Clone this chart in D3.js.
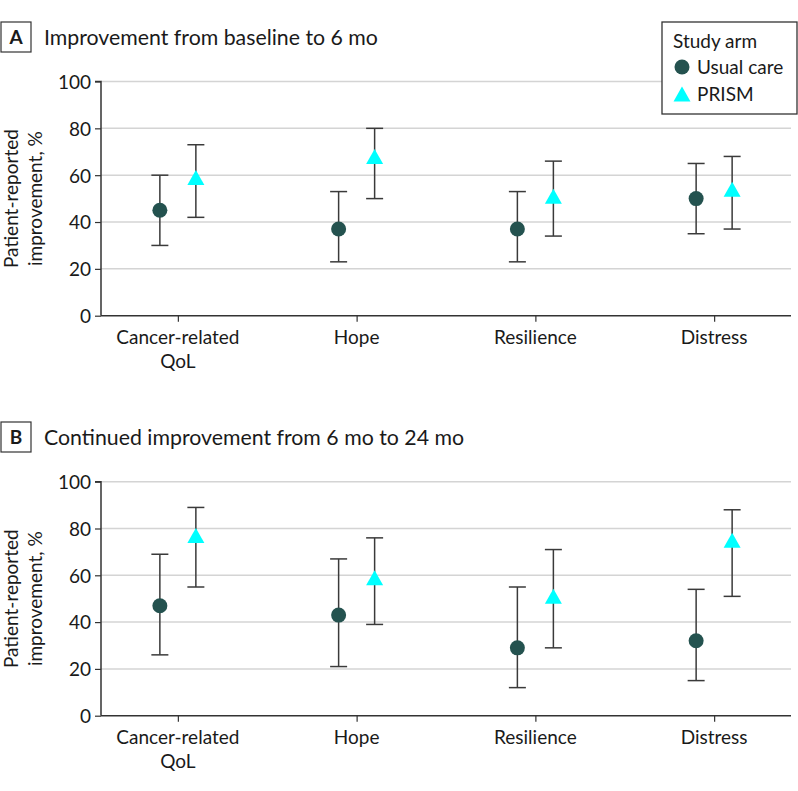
<!DOCTYPE html>
<html><head><meta charset="utf-8">
<script src="https://cdn.jsdelivr.net/npm/d3@7"></script>
<style>body{margin:0;background:#fff}svg{display:block}text{font-family:Lato,"Open Sans",sans-serif;fill:#1a1a1a}</style>
</head><body>
<svg id="c" width="798" height="791"></svg>
<script>
const categories = ["Cancer-related|QoL", "Hope", "Resilience", "Distress"];
const yTicks = [0, 20, 40, 60, 80, 100];
const seriesNames = ["Usual care", "PRISM"];

const aUsual = [45, 37, 37, 50];
const aUsualLo = [30, 23, 23, 35];
const aUsualHi = [60, 53, 53, 65];
const aPrism = [59, 68, 51, 54];
const aPrismLo = [42, 50, 34, 37];
const aPrismHi = [73, 80, 66, 68];

const bUsual = [47, 43, 29, 32];
const bUsualLo = [26, 21, 12, 15];
const bUsualHi = [69, 67, 55, 54];
const bPrism = [77, 59, 51, 75];
const bPrismLo = [55, 39, 29, 51];
const bPrismHi = [89, 76, 71, 88];

const panels = [
  {letter: "A", title: "Improvement from baseline to 6 mo", top: 81.5, bottom: 315.7, titleY: 37,
   usual: [aUsual, aUsualLo, aUsualHi], prism: [aPrism, aPrismLo, aPrismHi]},
  {letter: "B", title: "Continued improvement from 6 mo to 24 mo", top: 481.7, bottom: 715.7, titleY: 437,
   usual: [bUsual, bUsualLo, bUsualHi], prism: [bPrism, bPrismLo, bPrismHi]}
];

const svg = d3.select("#c");
const left = 101, right = 791;
const cUsual = "#24524f", cPrism = "#00ffff", cErr = "#3a3a3a";
const dodge = 18, cap = 8.5;

function triPath(w, h) {
  return `M0,${-h/2}L${w/2},${h/2}L${-w/2},${h/2}Z`;
}

const x = d3.scalePoint().domain(categories).range([left, right]).padding(0.43);

panels.forEach(p => {
  const g = svg.append("g");
  const y = d3.scaleLinear().domain([0, 100]).range([p.bottom, p.top]);

  // title
  g.append("rect").attr("x", 1).attr("y", p.titleY - 15).attr("width", 30).attr("height", 30)
    .attr("fill", "#fff").attr("stroke", "#333").attr("stroke-width", 1.2);
  g.append("text").attr("x", 16).attr("y", p.titleY + 7).attr("text-anchor", "middle")
    .attr("font-size", 19).attr("font-weight", "bold").text(p.letter);
  g.append("text").attr("x", 44).attr("y", p.titleY + 8).attr("font-size", 21.3).text(p.title);

  // gridlines
  g.append("g").selectAll("line").data(yTicks.filter(d => d > 0)).join("line")
    .attr("x1", left).attr("x2", right).attr("y1", d => y(d)).attr("y2", d => y(d))
    .attr("stroke", "#d4d4d4").attr("stroke-width", 1.5);

  // y axis
  const ya = g.append("g").attr("transform", `translate(${left},0)`)
    .call(d3.axisLeft(y).tickValues(yTicks).tickSize(6).tickPadding(4));
  ya.select(".domain").attr("stroke", "#333").attr("stroke-width", 1.5).attr("d", `M-6,${p.top}H0V${p.bottom}`);
  ya.selectAll(".tick line").attr("stroke", "#333").attr("stroke-width", 1.2);
  ya.selectAll(".tick text").attr("font-size", 19).attr("font-family", "Lato").attr("fill", "#1a1a1a").attr("dy", "0.36em");

  // x axis
  const xa = g.append("g").attr("transform", `translate(0,${p.bottom})`)
    .call(d3.axisBottom(x).tickSize(6).tickFormat(""));
  xa.select(".domain").attr("stroke", "#333").attr("stroke-width", 1.5).attr("d", `M${left},0H${right}`);
  xa.selectAll(".tick line").attr("stroke", "#333").attr("stroke-width", 1.2);
  categories.forEach(c => {
    const lines = c.split("|");
    lines.forEach((t, i) => {
      g.append("text").attr("x", x(c)).attr("y", p.bottom + 28 + i * 24)
        .attr("text-anchor", "middle").attr("font-size", 19).text(t);
    });
  });

  // y axis title
  const yt = g.append("text").attr("transform", `translate(0,${(p.top + p.bottom) / 2}) rotate(-90)`)
    .attr("text-anchor", "middle").attr("font-size", 19);
  yt.append("tspan").attr("x", 0).attr("y", 18).text("Patient-reported");
  yt.append("tspan").attr("x", 0).attr("y", 42).text("improvement, %");

  // series
  [[p.usual, -dodge, "circle"], [p.prism, dodge, "tri"]].forEach(([s, off, shape]) => {
    const [vals, lo, hi] = s;
    const sg = g.append("g");
    categories.forEach((c, i) => {
      const cx = x(c) + off;
      sg.append("line").attr("x1", cx).attr("x2", cx).attr("y1", y(lo[i])).attr("y2", y(hi[i]))
        .attr("stroke", cErr).attr("stroke-width", 1.5);
      [lo[i], hi[i]].forEach(v => sg.append("line").attr("x1", cx - cap).attr("x2", cx + cap)
        .attr("y1", y(v)).attr("y2", y(v)).attr("stroke", cErr).attr("stroke-width", 1.5));
      if (shape === "circle") {
        sg.append("circle").attr("cx", cx).attr("cy", y(vals[i])).attr("r", 7.5).attr("fill", cUsual);
      } else {
        sg.append("path").attr("d", triPath(17, 15)).attr("transform", `translate(${cx},${y(vals[i])})`).attr("fill", cPrism);
      }
    });
  });
});

// legend
const lg = svg.append("g");
lg.append("rect").attr("x", 662).attr("y", 22).attr("width", 135).attr("height", 92)
  .attr("fill", "#fff").attr("stroke", "#333").attr("stroke-width", 1.3);
lg.append("text").attr("x", 673).attr("y", 48).attr("font-size", 19).text("Study arm");
lg.append("circle").attr("cx", 682).attr("cy", 67).attr("r", 7.5).attr("fill", cUsual);
lg.append("text").attr("x", 697).attr("y", 74).attr("font-size", 19).text(seriesNames[0]);
lg.append("path").attr("d", triPath(17, 15)).attr("transform", "translate(682,94)").attr("fill", cPrism);
lg.append("text").attr("x", 697).attr("y", 101).attr("font-size", 19).text(seriesNames[1]);
</script>
</body></html>
